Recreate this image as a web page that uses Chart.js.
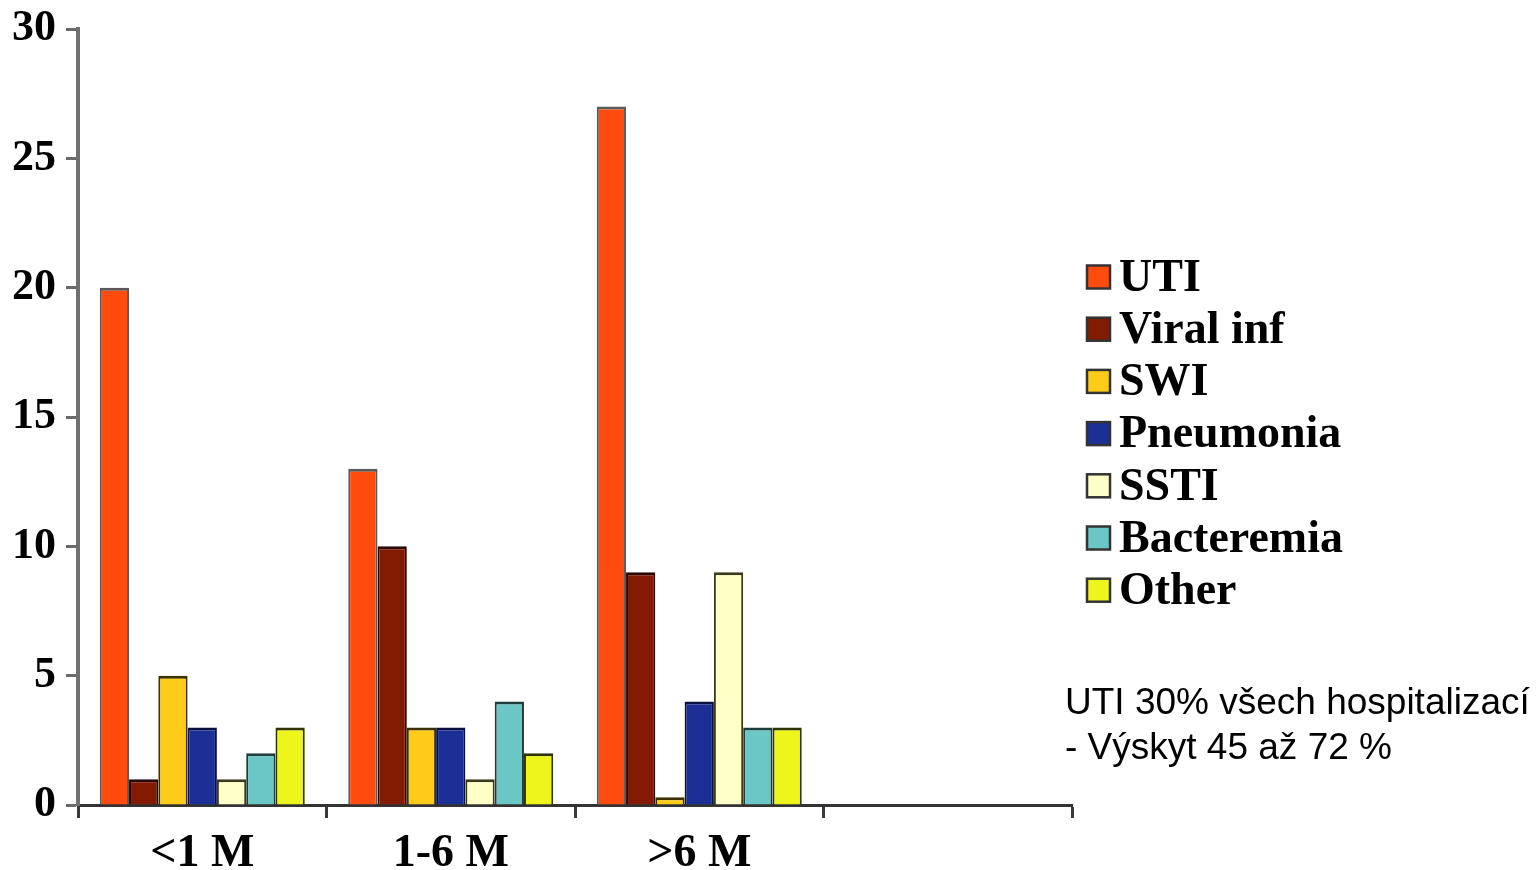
<!DOCTYPE html>
<html>
<head>
<meta charset="utf-8">
<script src="https://cdn.jsdelivr.net/npm/chart.js@4.4.1/dist/chart.umd.min.js"></script>
<style>
  html, body { margin: 0; padding: 0; background: #fff; }
  #wrap { width: 1538px; height: 870px; position: relative; }
</style>
</head>
<body>
<div id="wrap"><canvas id="c" width="1538" height="870"></canvas></div>
<script>
// Age groups (the fourth slot is an empty group on the axis)
const categories = ['<1 M', '1-6 M', '>6 M', ''];

// Number of hospitalisations per infection type
const uti        = [20, 13, 27, null];
const viralInf   = [1, 10, 9, null];
const swi        = [5, 3, 0.3, null];
const pneumonia  = [3, 3, 4, null];
const ssti       = [1, 1, 9, null];
const bacteremia = [2, 4, 3, null];
const other      = [3, 2, 3, null];

const seriesNames = ['UTI', 'Viral inf', 'SWI', 'Pneumonia', 'SSTI', 'Bacteremia', 'Other'];
const yTicks = [0, 5, 10, 15, 20, 25, 30];

const noteLines = ['UTI 30% všech hospitalizací', '- Výskyt 45 až 72 %'];

const fills   = ['#FF4C0E', '#821B02', '#FFCB19', '#1B2F97', '#FFFFC8', '#6BC7C5', '#EEF51A'];
const borders = ['#5a5a5a', '#2a0800', '#3d3000', '#0a1040', '#3a3a1a', '#1d3d3d', '#2f3300'];

const serif = '"Liberation Serif", "Times New Roman", serif';

const values = [uti, viralInf, swi, pneumonia, ssti, bacteremia, other];
const datasets = values.map((v, i) => ({
  label: seriesNames[i],
  data: v,
  backgroundColor: fills[i],
  borderColor: borders[i],
  borderWidth: { top: 3, left: 2, right: 2, bottom: 0 },
  borderSkipped: false,
  categoryPercentage: 0.825,
  barPercentage: 1.0
}));

// Legend block and note text drawn to the right of the plot
const sidePlugin = {
  id: 'side',
  afterDraw(chart) {
    const ctx = chart.ctx;
    ctx.save();
    const x0 = 1087, y0 = 277, step = 52.2, box = 23;
    chart.data.datasets.forEach((ds, i) => {
      const cy = y0 + i * step;
      ctx.fillStyle = ds.backgroundColor;
      ctx.fillRect(x0, cy - box / 2, box, box);
      ctx.lineWidth = 2.5;
      ctx.strokeStyle = '#333';
      ctx.strokeRect(x0, cy - box / 2, box, box);
      ctx.fillStyle = '#000';
      ctx.font = 'bold 46px ' + serif;
      ctx.textBaseline = 'middle';
      ctx.textAlign = 'left';
      ctx.fillText(ds.label, x0 + 32, cy + 2);
    });
    ctx.font = '37px "Liberation Sans", Arial, sans-serif';
    ctx.textBaseline = 'alphabetic';
    ctx.fillStyle = '#000';
    ctx.fillText(noteLines[0], 1065, 714);
    ctx.fillText(noteLines[1], 1065, 759);
    ctx.restore();
  }
};

new Chart(document.getElementById('c'), {
  type: 'bar',
  data: { labels: categories, datasets },
  options: {
    responsive: false,
    animation: false,
    layout: { padding: { top: 29, right: 466, left: 0, bottom: 0 } },
    plugins: { legend: { display: false }, tooltip: { enabled: false } },
    scales: {
      x: {
        offset: true,
        grid: { display: true, drawOnChartArea: false, drawTicks: true, tickLength: 13, tickWidth: 3, tickColor: '#3a3a3a', offset: true },
        border: { display: true, color: '#333', width: 3 },
        ticks: { color: '#000', font: { family: serif, size: 46, weight: 'bold' }, padding: 9, maxRotation: 0 },
        afterFit(s) { s.height = 65; s.paddingLeft = 0; s.paddingRight = 0; }
      },
      y: {
        min: 0, max: 30,
        afterBuildTicks(s) { s.ticks = yTicks.map(v => ({ value: v })); },
        grid: { display: true, drawOnChartArea: false, drawTicks: true, tickLength: 12, tickWidth: 3, tickColor: '#6a6a6a' },
        border: { display: true, color: '#707070', width: 4 },
        ticks: { color: '#000', font: { family: serif, size: 44, weight: 'bold' }, padding: 10 },
        afterFit(s) { s.width = 78; s.paddingTop = 0; s.paddingBottom = 0; }
      }
    }
  },
  plugins: [sidePlugin]
});
</script>
</body>
</html>
